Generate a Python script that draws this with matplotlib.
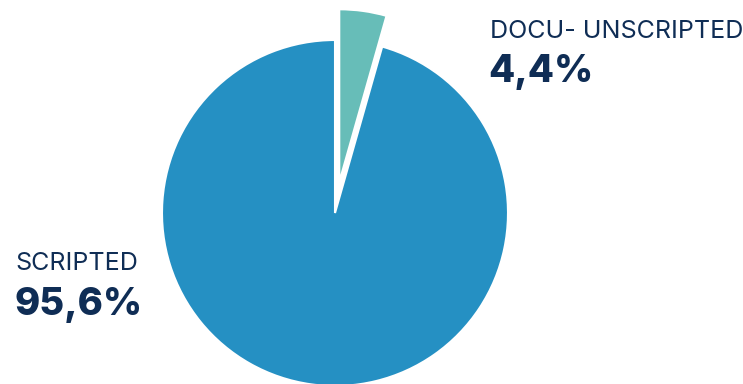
import matplotlib.pyplot as plt

labels = ["DOCU- UNSCRIPTED", "SCRIPTED"]
shares = [4.4, 95.6]
share_text = ["4,4%", "95,6%"]
colors = ["#67bdb8", "#2590c3"]
text_color = "#0f2d55"

fig = plt.figure(figsize=(7.43, 3.84), dpi=100)
ax = fig.add_axes([0, 0, 1, 1])

ax.pie(
    shares,
    colors=colors,
    startangle=90,
    counterclock=False,
    center=(335, 171),
    radius=173,
    explode=[31, 0],
    wedgeprops=dict(edgecolor="white", linewidth=1.5),
    frame=True,
)
ax.set_xlim(0, 743)
ax.set_ylim(0, 384)
ax.set_aspect("equal")
ax.axis("off")

font = ["Inter", "DejaVu Sans"]
ax.text(490, 346, labels[0], fontsize=18, color=text_color, family=font,
        va="baseline", ha="left")
ax.text(488, 302, share_text[0], fontsize=27.5, fontweight="heavy",
        color=text_color, family=font, va="baseline", ha="left")
ax.text(15, 114, labels[1], fontsize=18, color=text_color, family=font,
        va="baseline", ha="left")
ax.text(14, 69, share_text[1], fontsize=27.5, fontweight="heavy",
        color=text_color, family=font, va="baseline", ha="left")

fig.savefig("out.png", dpi=100)
